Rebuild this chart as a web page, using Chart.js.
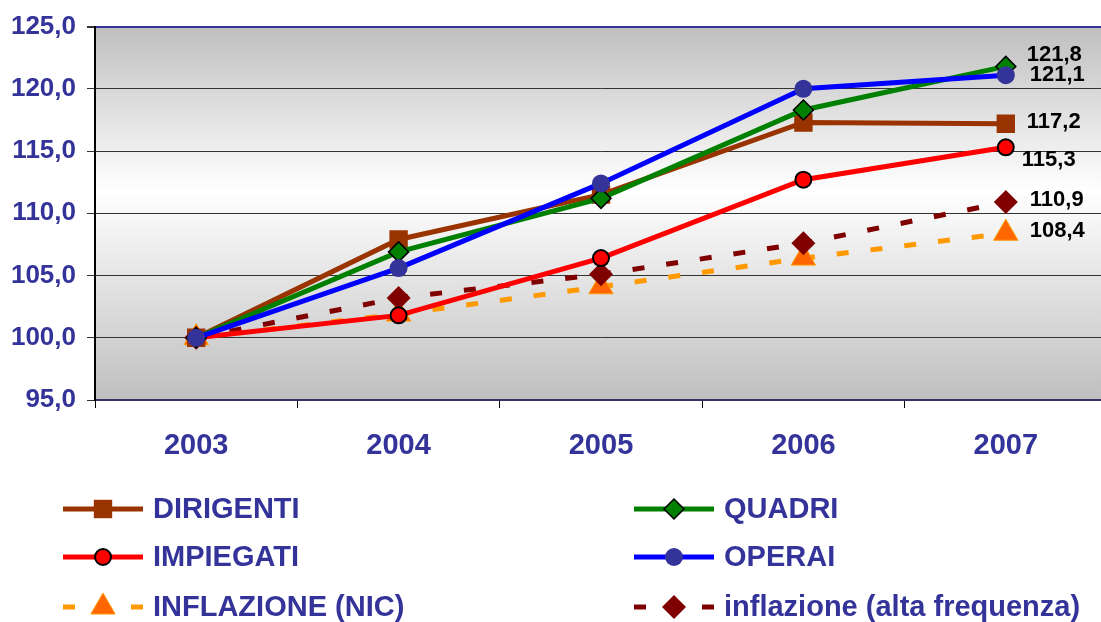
<!DOCTYPE html>
<html><head><meta charset="utf-8">
<script src="https://cdn.jsdelivr.net/npm/chart.js@4.4.0/dist/chart.umd.min.js"></script>
<style>html,body{margin:0;padding:0;overflow:hidden;background:#fff}#wrap{width:1101px;height:622px;overflow:hidden}#c{display:block;width:1110px;height:622px}</style>
</head><body><div id="wrap"><canvas id="c" width="1110" height="622"></canvas></div>
<script>
const categories = ['2003', '2004', '2005', '2006', '2007'];
const dirigenti  = [100, 107.9, 111.5, 117.3, 117.2];
const quadri     = [100, 106.9, 111.2, 118.3, 121.8];
const impiegati  = [100, 101.8, 106.4, 112.7, 115.3];
const operai     = [100, 105.6, 112.4, 120.0, 121.1];
const inflNIC    = [100, 101.9, 104.1, 106.4, 108.4];
const inflAlta   = [100, 103.2, 105.1, 107.6, 110.9];
const yMin = 95, yMax = 125, yStep = 5;

const FONT = '"Liberation Sans", Arial, Helvetica, sans-serif';
const NAVY = '#333399';
const fmt = v => v.toFixed(1).replace('.', ',');

const datasets = [
  { label: 'OPERAI', data: operai, borderColor: '#0000ff', borderWidth: 5,
    pointStyle: 'circle', pointRadius: 9, pointBackgroundColor: '#333399', pointBorderColor: '#333399', pointBorderWidth: 0,
    order: 1, endDx: 24, endDy: 0, legendCol: 1, legendRow: 1 },
  { label: 'QUADRI', data: quadri, borderColor: '#008000', borderWidth: 5,
    pointStyle: 'rectRot', pointRadius: 10, pointBackgroundColor: '#008000', pointBorderColor: '#000000', pointBorderWidth: 1.5,
    order: 2, endDx: 21, endDy: -11, legendCol: 1, legendRow: 0 },
  { label: 'DIRIGENTI', data: dirigenti, borderColor: '#993300', borderWidth: 5,
    pointStyle: 'rect', pointRadius: 13, pointBackgroundColor: '#993300', pointBorderColor: '#993300', pointBorderWidth: 0,
    order: 3, endDx: 21, endDy: -2, legendCol: 0, legendRow: 0 },
  { label: 'IMPIEGATI', data: impiegati, borderColor: '#ff0000', borderWidth: 5,
    pointStyle: 'circle', pointRadius: 8, pointBackgroundColor: '#ff0000', pointBorderColor: '#000000', pointBorderWidth: 2,
    order: 4, endDx: 16, endDy: 13, legendCol: 0, legendRow: 1 },
  { label: 'inflazione (alta frequenza)', data: inflAlta, borderColor: '#800000', borderWidth: 5, borderDash: [12, 22],
    pointStyle: 'rectRot', pointRadius: 12, pointBackgroundColor: '#800000', pointBorderColor: '#800000', pointBorderWidth: 0,
    order: 5, endDx: 24, endDy: -2, legendCol: 1, legendRow: 2 },
  { label: 'INFLAZIONE (NIC)', data: inflNIC, borderColor: '#ff9900', borderWidth: 5, borderDash: [12, 22],
    pointStyle: 'triangle', pointRadius: 14, pointBackgroundColor: '#ff6600', pointBorderColor: '#ff9900', pointBorderWidth: 1,
    order: 6, endDx: 24, endDy: -2, legendCol: 0, legendRow: 2 }
];
datasets.forEach(d => { d.fill = false; d.tension = 0; d.pointHoverRadius = d.pointRadius; });

const bgPlugin = {
  id: 'bg',
  beforeDraw(chart) {
    const { ctx, chartArea: a } = chart;
    const g = ctx.createLinearGradient(0, a.top, 0, a.bottom);
    g.addColorStop(0, '#bfbfbf');
    g.addColorStop(0.44, '#ffffff');
    g.addColorStop(1, '#bfbfbf');
    ctx.save();
    ctx.fillStyle = g;
    ctx.fillRect(a.left, a.top, a.right - a.left, a.bottom - a.top);
    ctx.restore();
  }
};

const endLabelPlugin = {
  id: 'endLabels',
  afterDatasetsDraw(chart) {
    const ctx = chart.ctx;
    ctx.save();
    ctx.font = 'bold 22px ' + FONT;
    ctx.fillStyle = '#000';
    ctx.textAlign = 'left';
    ctx.textBaseline = 'middle';
    chart.data.datasets.forEach((ds, i) => {
      const meta = chart.getDatasetMeta(i);
      const last = meta.data[meta.data.length - 1];
      ctx.fillText(fmt(ds.data[ds.data.length - 1]), last.x + ds.endDx, last.y + ds.endDy);
    });
    ctx.restore();
  }
};

const legendLayout = { colLineX: [[63, 143], [634, 714]], colTextX: [153, 724], rowY: [509, 557, 607] };
const customLegend = {
  id: 'customLegend',
  afterDraw(chart) {
    const ctx = chart.ctx;
    chart.data.datasets.forEach(ds => {
      const [x0, x1] = legendLayout.colLineX[ds.legendCol];
      const y = legendLayout.rowY[ds.legendRow];
      ctx.save();
      ctx.strokeStyle = ds.borderColor;
      ctx.lineWidth = ds.borderWidth;
      ctx.setLineDash(ds.borderDash || []);
      ctx.beginPath(); ctx.moveTo(x0, y); ctx.lineTo(x1, y); ctx.stroke();
      ctx.setLineDash([]);
      ctx.fillStyle = ds.pointBackgroundColor;
      ctx.strokeStyle = ds.pointBorderColor;
      ctx.lineWidth = ds.pointBorderWidth;
      Chart.helpers.drawPoint(ctx, { pointStyle: ds.pointStyle, radius: ds.pointRadius, rotation: 0, borderWidth: ds.pointBorderWidth }, (x0 + x1) / 2, y);
      ctx.fillStyle = NAVY;
      ctx.font = 'bold 29px ' + FONT;
      ctx.textAlign = 'left';
      ctx.textBaseline = 'middle';
      ctx.fillText(ds.label, legendLayout.colTextX[ds.legendCol], y + 1);
      ctx.restore();
    });
  }
};

new Chart(document.getElementById('c'), {
  type: 'line',
  data: { labels: categories, datasets },
  plugins: [bgPlugin, endLabelPlugin, customLegend],
  options: {
    responsive: false,
    maintainAspectRatio: false,
    devicePixelRatio: 1,
    animation: false,
    layout: { autoPadding: false, padding: { top: 23, right: 3, left: 0, bottom: 0 } },
    plugins: { legend: { display: false }, tooltip: { enabled: false } },
    scales: {
      x: {
        type: 'category',
        offset: true,
        grid: { offset: true, drawOnChartArea: false, drawTicks: true, tickLength: 8, color: '#000', lineWidth: 1 },
        border: { color: '#333366', width: 2 },
        ticks: { color: NAVY, font: { family: FONT, size: 29, weight: 'bold' }, padding: 21, maxRotation: 0 },
        afterFit(s) { s.height = 222; s.paddingLeft = 0; s.paddingRight = 0; }
      },
      y: {
        min: yMin, max: yMax,
        ticks: { stepSize: yStep, callback: v => fmt(v), color: NAVY, font: { family: FONT, size: 26, weight: 'bold' }, padding: 11 },
        grid: {
          color: c => (c.tick && c.tick.value === yMax) ? NAVY : '#333333',
          lineWidth: c => (c.tick && c.tick.value === yMax) ? 2 : 1,
          tickColor: '#333333', tickLength: 8
        },
        border: { color: '#000000', width: 2 },
        afterFit(s) { s.width = 95; }
      }
    }
  }
});
</script></body></html>
